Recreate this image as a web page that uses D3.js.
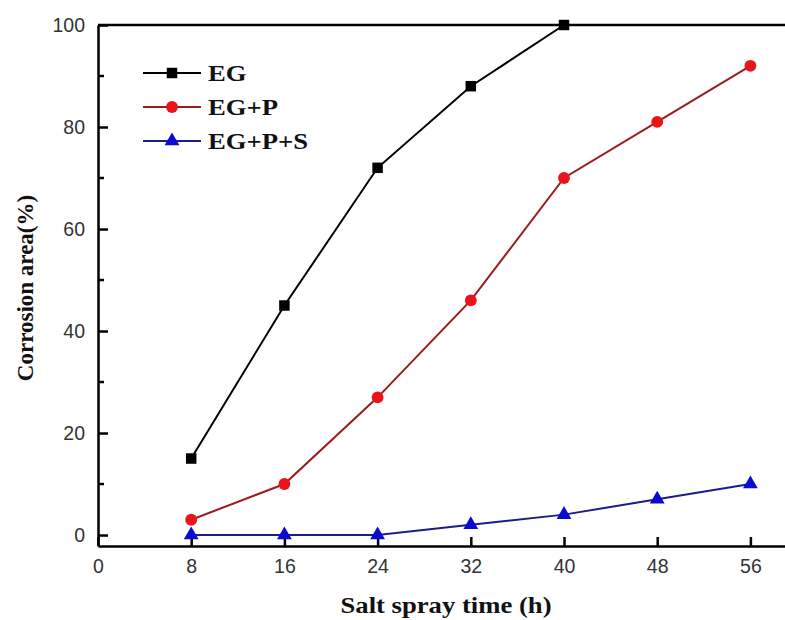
<!DOCTYPE html>
<meta charset="utf-8">
<style>
body { margin: 0; background: #fff; }
.tick text { font-family: "Liberation Sans", Arial, sans-serif; font-size: 19.5px; fill: #333; }
.title { font-family: "Liberation Serif", "Times New Roman", serif; font-weight: bold; font-size: 23px; fill: #111; }
.legend text { font-family: "Liberation Serif", "Times New Roman", serif; font-weight: bold; font-size: 23px; fill: #111; }
</style>
<body>
<svg width="785" height="620"></svg>
<script src="https://d3js.org/d3.v7.min.js"></script>
<script>

// data
var hours = [8, 16, 24, 32, 40, 48, 56];
var eg = [15, 45, 72, 88, 100];
var egP = [3, 10, 27, 46, 70, 81, 92];
var egPS = [0, 0, 0, 2, 4, 7, 10];
var xTicks = [0, 8, 16, 24, 32, 40, 48, 56];
var yTicks = [0, 20, 40, 60, 80, 100];
var yMinor = [10, 30, 50, 70, 90];

var series = [
  {name: "EG", values: eg, line: "#000", fill: "#000", shape: d3.symbolSquare},
  {name: "EG+P", values: egP, line: "#9b1c1c", fill: "#e8141a", shape: d3.symbolCircle},
  {name: "EG+P+S", values: egPS, line: "#1c1c8c", fill: "#0a0ad0", shape: d3.symbolTriangle}
];

var svg = d3.select("svg");

// x 0 -> 98px, 56 -> 750px ; y 100 -> 25px, 0 -> 535px
var x = d3.scaleLinear().domain([0, 60]).range([98, 797]);
var y = d3.scaleLinear().domain([-2.15, 100]).range([546, 25]);

// frame: top line and axes
svg.append("line")
    .attr("x1", 98).attr("x2", 797).attr("y1", y(100)).attr("y2", y(100))
    .attr("stroke", "#000").attr("stroke-width", 2.5);

var xAxis = svg.append("g")
    .attr("transform", "translate(0," + y(-2.15) + ")")
    .call(d3.axisBottom(x).tickValues(xTicks).tickSizeInner(-9).tickSizeOuter(0).tickPadding(13));

var yAxis = svg.append("g")
    .attr("transform", "translate(" + x(0) + ",0)")
    .call(d3.axisLeft(y).tickValues(yTicks).tickSizeInner(-10).tickSizeOuter(0).tickPadding(13));

// minor y ticks
svg.append("g").selectAll("line")
    .data(yMinor)
    .enter().append("line")
      .attr("x1", x(0)).attr("x2", x(0) + 6)
      .attr("y1", function(d) { return y(d); })
      .attr("y2", function(d) { return y(d); })
      .attr("stroke", "#000").attr("stroke-width", 2.5);

[xAxis, yAxis].forEach(function(a) {
  a.select(".domain").attr("stroke-width", 2.5);
  a.selectAll(".tick line").attr("stroke-width", 2.5);
});

// lines and markers
var line = d3.line()
    .x(function(d, i) { return x(hours[i]); })
    .y(function(d) { return y(d); });

series.forEach(function(s) {
  svg.append("path")
      .datum(s.values)
      .attr("fill", "none")
      .attr("stroke", s.line)
      .attr("stroke-width", 2)
      .attr("d", line);

  svg.append("g").selectAll("path")
      .data(s.values)
      .enter().append("path")
        .attr("d", d3.symbol().type(s.shape).size(s.shape === d3.symbolTriangle ? 95 : 110))
        .attr("fill", s.fill)
        .attr("transform", function(d, i) { return "translate(" + x(hours[i]) + "," + y(d) + ")"; });
});

// legend (text a bit wider than tall, as in the source image)
var legend = svg.append("g").attr("class", "legend");
series.forEach(function(s, i) {
  var ly = 73 + i * 34;
  legend.append("line")
      .attr("x1", 143).attr("x2", 201).attr("y1", ly).attr("y2", ly)
      .attr("stroke", s.line).attr("stroke-width", 2);
  legend.append("path")
      .attr("d", d3.symbol().type(s.shape).size(s.shape === d3.symbolTriangle ? 95 : 110))
      .attr("fill", s.fill)
      .attr("transform", "translate(172," + ly + ")");
  legend.append("text")
      .attr("transform", "translate(208," + (ly + 8) + ") scale(1.16,1)")
      .text(s.name);
});

// axis titles
svg.append("text")
    .attr("class", "title")
    .attr("transform", "translate(446,613) scale(1.16,1)")
    .attr("text-anchor", "middle")
    .text("Salt spray time (h)");

svg.append("text")
    .attr("class", "title")
    .attr("transform", "translate(33,288) rotate(-90)")
    .attr("text-anchor", "middle")
    .text("Corrosion area(%)");

</script>
</body>
